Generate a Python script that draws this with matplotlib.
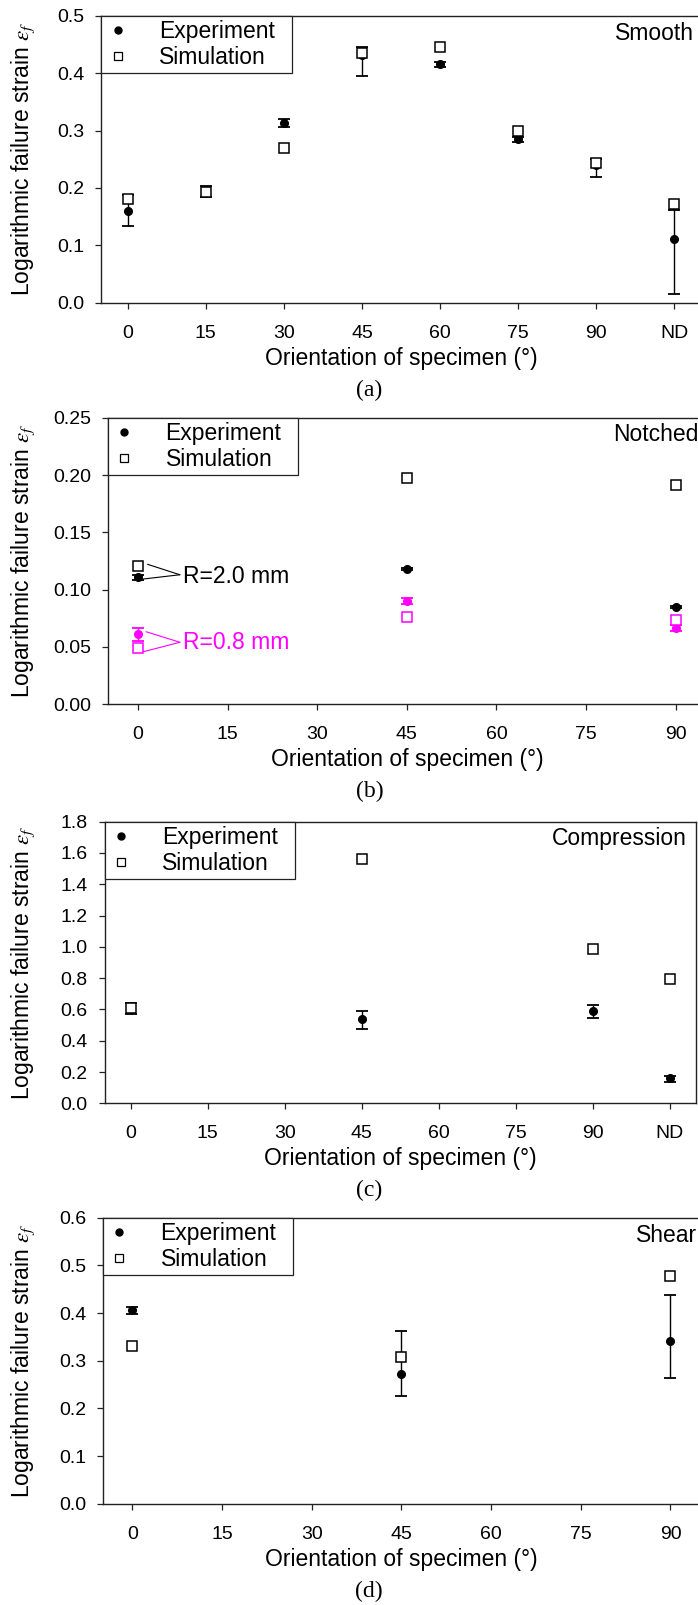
import matplotlib
matplotlib.use("Agg")
import matplotlib.pyplot as plt
from matplotlib.lines import Line2D
import numpy as np

plt.rcParams['font.family'] = ['Liberation Sans', 'DejaVu Sans']
plt.rcParams['mathtext.fontset'] = 'stix'

# ---------------- data ----------------
cat_labels = ['0', '15', '30', '45', '60', '75', '90', 'ND']

# (a) Smooth
a_cats = ['0', '15', '30', '45', '60', '75', '90', 'ND']
a_exp = [0.160, 0.1935, 0.313, 0.432, 0.4152, 0.2845, 0.240, 0.111]
a_exp_lo = [0.134, 0.184, 0.306, 0.395, 0.411, 0.2793, 0.2195, 0.0145]
a_exp_hi = [0.1876, 0.2033, 0.3194, 0.446, 0.4187, 0.289, 0.2497, 0.1614]
a_sim = [0.1806, 0.1934, 0.2695, 0.4344, 0.446, 0.299, 0.2427, 0.1719]

# (b) Notched
b_angles = [0, 45, 90]
b20_exp = [0.1107, 0.118, 0.0849]
b20_exp_lo = [0.108, 0.117, 0.0839]
b20_exp_hi = [0.1125, 0.119, 0.0859]
b20_sim = [0.1209, 0.1977, 0.1916]
b08_exp = [0.0613, 0.0904, 0.0669]
b08_exp_lo = [0.055, 0.0875, 0.064]
b08_exp_hi = [0.0666, 0.093, 0.069]
b08_sim = [0.0488, 0.0759, 0.0735]

# (c) Compression
c_cats = ['0', '45', '90', 'ND']
c_exp = [0.603, 0.539, 0.588, 0.164]
c_exp_lo = [0.569, 0.477, 0.543, 0.136]
c_exp_hi = [0.639, 0.592, 0.631, 0.177]
c_sim = [0.609, 1.561, 0.984, 0.792]

# (d) Shear
d_angles = [0, 45, 90]
d_exp = [0.406, 0.272, 0.3406]
d_exp_lo = [0.3986, 0.2259, 0.2636]
d_exp_hi = [0.4126, 0.3615, 0.4385]
d_sim = [0.330, 0.3077, 0.4783]

# ---------------- layout ----------------
W, H = 698, 1605
fig = plt.figure(figsize=(W / 100, H / 100), dpi=100)

def axes_px(left, top, right, bottom):
    return fig.add_axes([left / W, 1 - bottom / H, (right - left) / W, (bottom - top) / H])

SPINE = '#222222'
FS_LAB = 16.5
FS_TICK = 14

def ax_w_px(ax):
    return ax.get_position().width * W

def style(ax, left_px, top_px, bottom_px):
    for s in ax.spines.values():
        s.set_linewidth(1.0)
        s.set_color(SPINE)
    ax.tick_params(axis='both', direction='out', length=4.3, width=0.9,
                   color=SPINE, labelsize=FS_TICK)
    ax.tick_params(axis='x', pad=11.5)
    ax.tick_params(axis='y', pad=8)
    ax.set_ylabel('Logarithmic failure strain $\\varepsilon_f$', fontsize=FS_LAB)
    ax.yaxis.set_label_coords(-(left_px - 23) / ax_w_px(ax), 0.5)
    ax.yaxis.label.set_va('center')
    ax.set_xlabel('Orientation of specimen (°)', fontsize=FS_LAB)
    hpx = bottom_px - top_px
    ax.xaxis.set_label_coords(0.5, -55.5 / hpx)
    ax.xaxis.label.set_va('center')

def add_legend(ax):
    handles = [
        Line2D([], [], ls='none', marker='o', color='black', markersize=5),
        Line2D([], [], ls='none', marker='s', mfc='white', mec='black', markersize=6, mew=0.9),
    ]
    wfrac = 190.0 / ax_w_px(ax)
    leg = ax.legend(handles, ['Experiment', 'Simulation'], loc='upper left',
                    bbox_to_anchor=(0, 1, wfrac, 0), mode='expand', borderaxespad=0,
                    fontsize=FS_LAB, frameon=True, fancybox=False, borderpad=0.2,
                    handlelength=1.0, handletextpad=1.3, labelspacing=0.1)
    fr = leg.get_frame()
    fr.set_edgecolor(SPINE)
    fr.set_linewidth(0.9)
    fr.set_facecolor('white')
    fr.set_alpha(1)
    leg.set_zorder(10)

def plot_series(ax, x, exp, lo, hi, sim, color):
    exp = np.array(exp); lo = np.array(lo); hi = np.array(hi)
    ax.errorbar(x, exp, yerr=[exp - lo, hi - exp], fmt='none', ecolor=color,
                elinewidth=1.0, capsize=4.5, capthick=1.3, zorder=2)
    ax.plot(x, exp, ls='none', marker='o', color=color, markersize=5.5, zorder=3)
    ax.plot(x, sim, ls='none', marker='s', mfc='white', mec=color, mew=1.1,
            markersize=7.5, zorder=4)

def panel_text(txt, x_px, y_px):
    fig.text(x_px / W, 1 - y_px / H, txt, ha='left', va='center', fontsize=FS_LAB)

def caption(txt, x_px, y_px):
    fig.text(x_px / W, 1 - y_px / H, txt, ha='center', va='center',
             fontsize=17, family='Liberation Serif')

# ---------- (a) ----------
ax = axes_px(101.5, 15.7, 700.5, 302.7)
xa = [cat_labels.index(c) for c in a_cats]
plot_series(ax, xa, a_exp, a_exp_lo, a_exp_hi, a_sim, 'black')
ax.set_xlim(-0.335, 7.335)
ax.set_ylim(0, 0.5)
ax.set_xticks(range(len(cat_labels)))
ax.set_xticklabels(cat_labels)
ax.set_yticks(np.arange(0, 0.51, 0.1))
ax.set_yticklabels([f'{v:.1f}' for v in np.arange(0, 0.51, 0.1)])
style(ax, 101.5, 15.7, 302.7)
add_legend(ax)
panel_text('Smooth', 615.3, 33.3)
caption('(a)', 369, 390)

# ---------- (b) ----------
ax = axes_px(108.2, 417.7, 705.5, 704.3)
plot_series(ax, b_angles, b20_exp, b20_exp_lo, b20_exp_hi, b20_sim, 'black')
plot_series(ax, b_angles, b08_exp, b08_exp_lo, b08_exp_hi, b08_sim, '#ff00ff')
ax.set_xlim(-5, 95)
ax.set_ylim(0, 0.25)
ax.set_xticks(np.arange(0, 91, 15))
ax.set_yticks(np.arange(0, 0.251, 0.05))
ax.set_yticklabels([f'{v:.2f}' for v in np.arange(0, 0.251, 0.05)])
style(ax, 108.2, 417.7, 704.3)
add_legend(ax)
# leader lines + labels
for (x0, y0), col in [((1.6, 0.1221), 'black'), ((0.9, 0.1093), 'black'),
                      ((1.35, 0.0633), '#ff00ff'), ((0.9, 0.0459), '#ff00ff')]:
    ty = 0.113 if col == 'black' else 0.0541
    ax.annotate('', xy=(7.0, ty), xytext=(x0, y0),
                arrowprops=dict(arrowstyle='-', color=col, lw=0.8, shrinkA=0, shrinkB=0))
ax.text(7.6, 0.1113, 'R=2.0 mm', color='black', fontsize=FS_LAB, ha='left', va='center')
ax.text(7.6, 0.0537, 'R=0.8 mm', color='#ff00ff', fontsize=FS_LAB, ha='left', va='center')
panel_text('Notched', 613.5, 435)
caption('(b)', 369.5, 791)

# ---------- (c) ----------
ax = axes_px(104.6, 821.7, 696.0, 1103.3)
xc = [cat_labels.index(c) for c in c_cats]
plot_series(ax, xc, c_exp, c_exp_lo, c_exp_hi, c_sim, 'black')
ax.set_xlim(-0.34, 7.34)
ax.set_ylim(0, 1.8)
ax.set_xticks(range(len(cat_labels)))
ax.set_xticklabels(cat_labels)
ax.set_yticks(np.arange(0, 1.81, 0.2))
ax.set_yticklabels([f'{v:.1f}' for v in np.arange(0, 1.81, 0.2)])
style(ax, 104.6, 821.7, 1103.3)
add_legend(ax)
panel_text('Compression', 552, 838.3)
caption('(c)', 369.5, 1190)

# ---------- (d) ----------
ax = axes_px(103.3, 1217.7, 699.5, 1503.7)
plot_series(ax, d_angles, d_exp, d_exp_lo, d_exp_hi, d_sim, 'black')
ax.set_xlim(-4.85, 94.85)
ax.set_ylim(0, 0.6)
ax.set_xticks(np.arange(0, 91, 15))
ax.set_yticks(np.arange(0, 0.61, 0.1))
ax.set_yticklabels([f'{v:.1f}' for v in np.arange(0, 0.61, 0.1)])
style(ax, 103.3, 1217.7, 1503.7)
add_legend(ax)
panel_text('Shear', 635.8, 1235)
caption('(d)', 369, 1591.7)

fig.savefig('out.png', dpi=100)
